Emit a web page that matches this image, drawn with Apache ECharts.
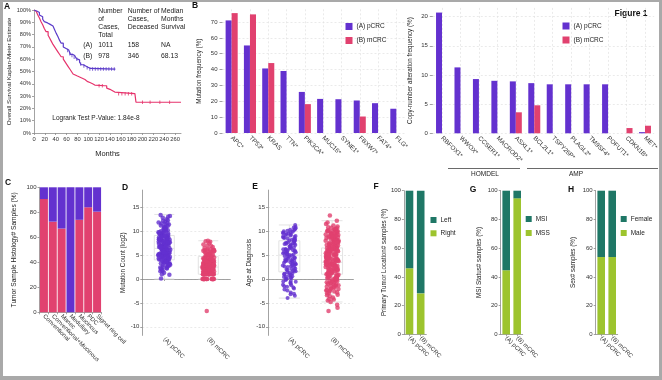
<!DOCTYPE html>
<html><head><meta charset="utf-8">
<script src="https://cdn.jsdelivr.net/npm/echarts@6/dist/echarts.min.js"></script>
<style>
html,body{margin:0;padding:0;background:#a9a9a9;}
#wrap{position:relative;width:662px;height:380px;background:#a9a9a9;overflow:hidden;}
#paper{position:absolute;left:3px;top:2px;width:656px;height:374px;background:#fff;}
#c{position:absolute;left:0;top:0;width:662px;height:380px;}
</style>
</head><body><div id="wrap"><div id="paper"></div><div id="c"></div></div>
<script>
// ---------- DATA ----------
// A: Kaplan-Meier
const kmMonthsA = [0,3,6,10,13,16,19,22,25,29,32,35,38,41,44,47,50,54,57,60,64,67,71,75,78,81,84,87,91,94,97,100,104,150];
const kmSurvA   = [100,99,98,96,94.5,92.5,90.5,89.5,88.5,87.5,87,86,84,81,78.5,75.5,73,70,68.5,67.5,66,64,63,61.5,60.5,59.5,57.5,55.5,54.5,54,53,52.5,52,52];
const kmMonthsB = [0,2,4,7,10,13,16,19,22,26,29,32,35,38,41,44,47,50,54,57,60,63,66,69,72,75,79,84,89,94,98,103,108,112,130,134,137,140,144,149,186,188,271];
const kmSurvB   = [100,99,98,96,93.5,90.5,88,85,82.5,79.5,77,74.5,72,70,68,66,64,62,60,58,56,54,52,50,48,46.5,45.5,44.5,43.5,42,41,40,39,38.4,38.4,36.5,35.5,34.6,33.3,32,32,25,25];
const kmCensorA = [[62,67],[66,64.5],[70,63],[74,61.5],[79,60],[86,56],[92,54.5],[98,53],[103,52],[108,52],[113,52],[118,52],[123,52],[128,52],[133,52],[138,52],[143,52],[148,52]];
const kmCensorB = [[120,38.4],[126,38.4],[156,32],[162,32],[168,32],[174,32],[180,32],[200,25],[214,25],[232,25],[250,25]];
const kmTicks = [0,20,40,60,80,100,120,140,160,180,200,220,240,260];

// B: mutation frequency
const mutGenes = ['APC*','TP53*','KRAS','TTN*','PIK3CA*','MUC16*','SYNE1*','FBXW7*','FAT4*','FLG*'];
const mutPcrc  = [71.0,55.2,40.7,39.1,25.9,21.5,21.3,20.5,18.8,15.3];
const mutMcrc  = [75.6,74.8,44.1,0,18.2,0,0,10.4,0,0];
const mutTicks = [0,10,20,30,40,50,60,70];

// B right: copy-number alteration
const cnaGenes = ['RBFOX1*','WWOX*','CCSER1*','MACROD2*','ASXL1*','BCL2L1*','TSPY26P*','PLAGL2*','TM9SF4*','POFUT1*','CDKN1B*','MET*'];
const cnaPcrc  = [20.7,11.3,9.3,9.0,8.9,8.6,8.4,8.4,8.4,8.4,0,0.2];
const cnaMcrc  = [0,0,0,0,3.6,4.8,0,0,0,0,0.9,1.3];
const cnaTicks = [0,5,10,15,20];

// C: histology
const histTypes = ['Conventional','Conventional+Mucinous','Manec','Medullary','Mucinous','PDC','Signet ring cell'];
const histMcrc  = [90.6,72.5,67,0,74,84,80.5];
const histPcrc  = [9.4,27.5,33,100,26,16,19.5];

// D / E: jittered points
const groups = ['(A) pCRC','(B) mCRC'];
const mutCountPcrc = [0.1,0.9,1.3,1.6,1.9,2.1,2.3,2.5,2.6,2.8,2.9,3.0,3.2,3.3,3.4,3.5,3.6,3.8,3.9,4.0,4.0,4.1,4.2,4.3,4.4,4.5,4.6,4.7,4.8,4.9,5.0,5.0,5.1,5.2,5.3,5.4,5.5,5.5,5.6,5.7,5.8,5.9,6.0,6.0,6.1,6.2,6.3,6.4,6.4,6.5,6.6,6.7,6.8,6.9,7.0,7.0,7.1,7.2,7.3,7.4,7.5,7.5,7.6,7.7,7.8,7.9,8.0,8.0,8.1,8.2,8.3,8.4,8.5,8.6,8.7,8.8,8.9,9.0,9.1,9.2,9.3,9.4,9.6,9.7,9.8,10.0,10.1,10.3,10.4,10.6,10.7,10.9,11.0,11.2,11.4,11.6,11.8,12.0,12.3,12.5,12.8,13.0,13.2,13.4,12.2,11.5,3.1,4.6,5.8,6.9,7.9,9.5,2.2,8.6,6.3,5.3,
  1.0,1.7,2.4,2.7,3.0,3.3,3.5,3.7,3.9,4.1,4.3,4.5,4.7,4.9,5.1,5.3,5.5,5.7,5.9,6.1,6.3,6.5,6.7,6.9,7.1,7.3,7.5,7.7,7.9,8.1,8.3,8.5,8.7,8.9,9.1,9.3,9.5,9.8,10.2,10.6,11.1,11.7,4.2,4.8,5.4,6.0,6.6,7.2,7.8,8.4,9.0,5.0,6.2,7.4,3.6,8.8,10.0,5.6,6.8,7.6];
const mutCountMcrc = [0,0,0,0,0,0,0,0,0,0,0,0,1,1,1,1,1,1,1,1,1,1.58,1.58,1.58,1.58,1.58,1.58,1.58,2,2,2,2,2,2,2,2.32,2.32,2.32,2.32,2.32,2.58,2.58,2.58,2.58,2.58,2.81,2.81,2.81,2.81,3,3,3,3,3,3.17,3.17,3.17,3.32,3.32,3.32,3.32,3.46,3.46,3.58,3.58,3.58,3.7,3.81,3.91,3.91,4,4,4.09,4.17,4.25,4.32,4.39,4.46,4.52,4.58,4.7,4.81,4.91,5,5.09,5.17,5.32,5.46,5.58,5.7,5.81,5.91,6,6.04,6.09,6.13,6.2,6.3,6.5,6.7,7.0,7.2,7.5,7.8,8.0,7.9,6.9,-6.7,
  0,0,0,0,0,0,1,1,1,1,1,1.58,1.58,1.58,1.58,2,2,2,2,2.32,2.32,2.32,2.58,2.58,2.58,2.81,2.81,3,3,3.17,3.32,3.46,3.58,3.7,3.81,4,4.17,4.32,4.58,4.81,5,5.25,5.5,5.75,6,1,2,3,4,5];
const agePcrc = [-4.0,-3.5,-3.1,-2.8,-2.4,-2.0,-1.8,-1.5,-1.2,-1.0,-0.8,-0.6,-0.4,-0.2,0.0,0.1,0.3,0.5,0.6,0.8,1.0,1.1,1.3,1.4,1.6,1.8,1.9,2.1,2.2,2.4,2.5,2.7,2.8,3.0,3.1,3.2,3.4,3.5,3.7,3.8,3.9,4.1,4.2,4.4,4.5,4.6,4.8,4.9,5.0,5.2,5.3,5.4,5.6,5.7,5.8,6.0,6.1,6.2,6.4,6.5,6.6,6.8,6.9,7.0,7.2,7.3,7.4,7.6,7.7,7.8,8.0,8.1,8.2,8.4,8.5,8.6,8.8,8.9,9.0,9.2,9.3,9.5,9.6,9.8,10.0,10.2,10.4,10.6,10.9,11.3,-3.2,-1.6,0.4,2.0,3.3,4.3,5.5,6.7,7.5,8.3,9.1,9.9,10.3,
  -0.5,0.9,1.7,2.6,3.6,4.7,5.1,5.9,6.3,7.1,7.9,8.7,9.4,10.1,10.8,1.2,2.9,4.0,6.0,8.0,9.7,3.8,5.6,7.4,-2.2,-1.3,0.2];
const ageMcrc = [-6.7,-6.0,-5.4,-4.8,-4.5,-4.2,-3.9,-3.6,-3.3,-3.0,-2.8,-2.6,-2.4,-2.2,-2.0,-1.8,-1.6,-1.4,-1.2,-1.0,-0.9,-0.7,-0.5,-0.4,-0.2,0.0,0.1,0.2,0.4,0.5,0.6,0.8,0.9,1.0,1.1,1.2,1.4,1.5,1.6,1.7,1.8,2.0,2.1,2.2,2.3,2.4,2.5,2.6,2.8,2.9,3.0,3.1,3.2,3.3,3.4,3.5,3.6,3.7,3.8,3.9,4.0,4.1,4.2,4.3,4.4,4.5,4.6,4.7,4.8,4.9,5.0,5.1,5.2,5.3,5.4,5.5,5.6,5.7,5.8,5.9,6.0,6.1,6.2,6.3,6.4,6.5,6.6,6.7,6.8,6.9,7.0,7.1,7.2,7.3,7.4,7.5,7.6,7.7,7.8,7.9,8.0,8.1,8.2,8.3,8.4,8.5,8.6,8.7,8.8,8.9,9.0,9.1,9.2,9.3,9.4,9.5,9.6,9.7,9.8,9.9,10.0,10.1,10.2,10.3,10.4,10.5,10.6,10.8,11.0,11.2,11.8,12.2,13.3,3.0,4.2,5.1,6.3,7.0,1.8,2.7,8.1,0.7,-1.1,
  -3.4,-2.9,-2.5,-2.1,-1.7,-1.3,-0.8,-0.3,0.3,0.7,1.1,1.5,1.9,2.3,2.7,3.1,3.5,3.9,4.3,4.7,5.1,5.5,5.9,6.3,6.7,7.1,7.5,7.9,8.3,8.7,9.1,9.5,9.9,10.3,10.7,-1.5,-0.6,0.3,1.2,2.1,3.0,3.9,4.8,5.7,6.6,7.5,8.4,9.3,10.2,0.0,1.0,2.0,3.0,4.0,5.0,6.0,7.0,8.0,9.0,10.0,-2.3,-0.1,2.6,4.4,6.2,8.8,-4.3,11.5,1.3,3.7,5.3,7.7];
const mutCountBox = [[0,4,6.4,9.1,13.5],[0,1,2.5,4.7,8]];
const ageBox = [[-4,1.5,5,8,11.3],[-4.8,1,3.5,6.5,12.2]];
const scatterTicks = [-10,-5,0,5,10,15];

// F, G, H: stacked percentages
const locRight = [46, 28.5];   const locLeft = [54, 71.5];
const msiMss   = [44.6, 94.7]; const msiMsi  = [55.4, 5.3];
const sexMale  = [53.8, 53.8]; const sexFemale = [46.2, 46.2];

// ---------- STYLE ----------
const FONT = 'Liberation Sans, Arial, sans-serif';
const PURPLE = '#6331cf', PINK = '#e1416f', TEAL = '#1f7766', LIME = '#9dc42e';
const KM_PURPLE = '#5b3bc9', KM_PINK = '#e6336c';
const AX = '#8c8c8c';

function merge(a,b){const r=Object.assign({},a);for(const k in b){const v=b[k];if(v&&typeof v==='object'&&!Array.isArray(v)&&a[k]&&typeof a[k]==='object'&&!Array.isArray(a[k]))r[k]=merge(a[k],v);else r[k]=v;}return r;}

const baseAxis = {
  axisLine:{show:true,lineStyle:{color:AX,width:0.8}},
  axisTick:{show:true,length:2,lineStyle:{color:AX,width:0.8}},
  axisLabel:{fontSize:6,color:'#333',margin:3,fontFamily:FONT},
  splitLine:{show:false},
  nameLocation:'middle',
  nameTextStyle:{fontSize:6.3,color:'#222',fontFamily:FONT}
};
const dashGrid = {show:true,lineStyle:{color:'#e2e2e2',type:[2,2],width:0.7}};
function yv(gi,o){return merge(merge(baseAxis,{gridIndex:gi,type:'value',nameRotate:90}),o);}
function xc(gi,data,o){return merge(merge(baseAxis,{gridIndex:gi,type:'category',data:data,axisLabel:{rotate:-45,margin:3,fontSize:6.2,interval:0}}),o);}

const grids = [
  {left:34,top:10,width:147,height:123},        // A
  {left:222.5,top:9.3,width:183,height:123.7},  // B left
  {left:432.8,top:7.9,width:221.4,height:125.4},// B right
  {left:39.5,top:187.3,width:62,height:125},    // C
  {left:142.3,top:190.1,width:88,height:145.3}, // D
  {left:268,top:190.1,width:85.4,height:145.3}, // E
  {left:403.9,top:190.7,width:22.4,height:143.6},// F
  {left:500.7,top:190.7,width:22,height:143.6}, // G
  {left:595.7,top:190.7,width:22,height:143.6}  // H
].map(g=>Object.assign({outerBoundsMode:'none',containLabel:false},g));

const xAxis = [
  merge(baseAxis,{gridIndex:0,type:'value',min:0,max:271,name:'Months',nameGap:17,
    nameTextStyle:{fontSize:7.5},axisLabel:{customValues:kmTicks,fontSize:5.8},axisTick:{customValues:kmTicks}}),
  xc(1,mutGenes,{axisLine:{show:false},axisTick:{show:false},splitLine:merge(dashGrid,{alignWithLabel:true}),axisLabel:{fontSize:6.3,margin:4}}),
  xc(2,cnaGenes,{axisLine:{show:false},axisTick:{show:false},splitLine:merge(dashGrid,{alignWithLabel:true}),axisLabel:{fontSize:6.3,margin:4}}),
  xc(3,histTypes,{axisLabel:{fontSize:6}}),
  xc(4,groups,{jitter:12,jitterOverlap:true,axisTick:{alignWithLabel:true}}),
  xc(5,groups,{jitter:13,jitterOverlap:true,axisTick:{alignWithLabel:true}}),
  xc(6,groups,{axisTick:{alignWithLabel:true},axisLabel:{fontSize:6}}),
  xc(7,groups,{axisTick:{alignWithLabel:true},axisLabel:{fontSize:6}}),
  xc(8,groups,{axisTick:{alignWithLabel:true},axisLabel:{fontSize:6}})
];
const yAxis = [
  yv(0,{min:0,max:100,interval:10,name:'Overall Survival Kaplan-Meier Estimate',nameGap:22,nameTextStyle:{fontSize:6.2},axisLabel:{formatter:'{value}%',fontSize:5.6}}),
  yv(1,{min:0,max:78,name:'Mutation frequency (%)',nameGap:20,axisLine:{show:false},axisLabel:{customValues:mutTicks,margin:5},axisTick:{customValues:mutTicks,length:3},splitLine:dashGrid}),
  yv(2,{min:0,max:21.5,name:'Copy-number alteration frequency (%)',nameGap:20,axisLine:{show:false},axisLabel:{customValues:cnaTicks,margin:5},axisTick:{customValues:cnaTicks,length:3},splitLine:dashGrid}),
  yv(3,{min:0,max:100,interval:20,name:'Tumor Sample Histology# Samples (%)',nameGap:22,nameTextStyle:{fontSize:6.6}}),
  yv(4,{min:-11.8,max:18.6,name:'Mutation Count (log2)',nameGap:14,axisLabel:{customValues:scatterTicks},axisTick:{customValues:scatterTicks},splitLine:dashGrid}),
  yv(5,{min:-11.8,max:18.6,name:'Age at Diagnosis',nameGap:13,axisLabel:{customValues:scatterTicks},axisTick:{customValues:scatterTicks},splitLine:dashGrid}),
  yv(6,{min:0,max:100,interval:20,name:'Primary Tumor Location# samples (%)',nameGap:17}),
  yv(7,{min:0,max:100,interval:20,name:'MSI Status# samples (%)',nameGap:18}),
  yv(8,{min:0,max:100,interval:20,name:'Sex# samples (%)',nameGap:19})
];

function zip(a,b){return a.map((v,i)=>[v,b[i]]);}
function pts(cat,arr){return arr.map(v=>[cat,v]);}
const boxStyle = {color:'rgba(0,0,0,0)',borderColor:'#e0e0e0',borderWidth:0.9};

const series = [
  // A
  {type:'line',name:'KM pCRC',xAxisIndex:0,yAxisIndex:0,step:'end',showSymbol:false,data:zip(kmMonthsA,kmSurvA),lineStyle:{color:KM_PURPLE,width:1.2},itemStyle:{color:KM_PURPLE},z:3},
  {type:'line',name:'KM mCRC',xAxisIndex:0,yAxisIndex:0,step:'end',showSymbol:false,data:zip(kmMonthsB,kmSurvB),lineStyle:{color:KM_PINK,width:1.2},itemStyle:{color:KM_PINK},z:2},
  {type:'scatter',name:'KM cens A',xAxisIndex:0,yAxisIndex:0,symbol:'rect',symbolSize:[1,3.5],data:kmCensorA,itemStyle:{color:KM_PURPLE}},
  {type:'scatter',name:'KM cens B',xAxisIndex:0,yAxisIndex:0,symbol:'rect',symbolSize:[1,3.5],data:kmCensorB,itemStyle:{color:KM_PINK}},
  // B left
  {type:'bar',name:'(A) pCRC',xAxisIndex:1,yAxisIndex:1,data:mutPcrc,itemStyle:{color:PURPLE},barGap:'0%',barCategoryGap:'34%'},
  {type:'bar',name:'(B) mCRC',xAxisIndex:1,yAxisIndex:1,data:mutMcrc,itemStyle:{color:PINK},barGap:'0%',barCategoryGap:'34%'},
  // B right
  {type:'bar',name:'(A) pCRC',xAxisIndex:2,yAxisIndex:2,data:cnaPcrc,itemStyle:{color:PURPLE},barGap:'0%',barCategoryGap:'35%'},
  {type:'bar',name:'(B) mCRC',xAxisIndex:2,yAxisIndex:2,data:cnaMcrc,itemStyle:{color:PINK},barGap:'0%',barCategoryGap:'35%'},
  // C
  {type:'bar',name:'hist mCRC',xAxisIndex:3,yAxisIndex:3,stack:'h',data:histMcrc,barWidth:8,itemStyle:{color:PINK}},
  {type:'bar',name:'hist pCRC',xAxisIndex:3,yAxisIndex:3,stack:'h',data:histPcrc,barWidth:8,itemStyle:{color:PURPLE}},
  // D
  {type:'boxplot',name:'box D',xAxisIndex:4,yAxisIndex:4,data:mutCountBox,boxWidth:[20,20],itemStyle:boxStyle,z:1},
  {type:'scatter',name:'D pCRC',xAxisIndex:4,yAxisIndex:4,data:pts(0,mutCountPcrc),symbolSize:4.5,itemStyle:{color:PURPLE},z:3},
  {type:'scatter',name:'D mCRC',xAxisIndex:4,yAxisIndex:4,data:pts(1,mutCountMcrc),symbolSize:4.5,itemStyle:{color:PINK},z:3},
  // E
  {type:'boxplot',name:'box E',xAxisIndex:5,yAxisIndex:5,data:ageBox,boxWidth:[21,21],itemStyle:boxStyle,z:1},
  {type:'scatter',name:'E pCRC',xAxisIndex:5,yAxisIndex:5,data:pts(0,agePcrc),symbolSize:4,itemStyle:{color:PURPLE},z:3},
  {type:'scatter',name:'E mCRC',xAxisIndex:5,yAxisIndex:5,data:pts(1,ageMcrc),symbolSize:4.6,itemStyle:{color:PINK},z:3},
  // F
  {type:'bar',name:'Right',xAxisIndex:6,yAxisIndex:6,stack:'f',data:locRight,barWidth:7.6,itemStyle:{color:LIME}},
  {type:'bar',name:'Left',xAxisIndex:6,yAxisIndex:6,stack:'f',data:locLeft,barWidth:7.6,itemStyle:{color:TEAL}},
  // G
  {type:'bar',name:'MSS',xAxisIndex:7,yAxisIndex:7,stack:'g',data:msiMss,barWidth:7.6,itemStyle:{color:LIME}},
  {type:'bar',name:'MSI',xAxisIndex:7,yAxisIndex:7,stack:'g',data:msiMsi,barWidth:7.6,itemStyle:{color:TEAL}},
  // H
  {type:'bar',name:'Male',xAxisIndex:8,yAxisIndex:8,stack:'hh',data:sexMale,barWidth:7.6,itemStyle:{color:LIME}},
  {type:'bar',name:'Female',xAxisIndex:8,yAxisIndex:8,stack:'hh',data:sexFemale,barWidth:7.6,itemStyle:{color:TEAL}}
];
series.forEach(s=>{s.animation=false;s.silent=true;});

function leg(names,left,top,gap,size){return {data:names,left:left,top:top,orient:'vertical',itemWidth:size,itemHeight:size,itemGap:gap,icon:'rect',selectedMode:false,padding:0,textStyle:{fontSize:6.5,color:'#222',fontFamily:FONT,padding:[0,0,0,-1]}};}
const legend = [
  leg(['(A) pCRC','(B) mCRC'],345.5,23,7,7),
  leg(['(A) pCRC','(B) mCRC'],562.5,22.5,7,7),
  leg(['Left','Right'],430.5,216.5,6.3,6),
  leg(['MSI','MSS'],525.7,215.5,7,6),
  leg(['Female','Male'],620.7,215.5,7,6)
];

function T(x,y,text,o){return {type:'text',x:x,y:y,silent:true,style:Object.assign({text:text,fill:'#222',fontSize:6.8,fontFamily:FONT,verticalAlign:'middle',textVerticalAlign:'middle'},o||{})};}
function L(x,y,t){return T(x,y,t,{fontSize:8.5,fontWeight:'bold',fill:'#111',textAlign:'center',align:'center'});}
const graphic = [
  L(7,7,'A'),L(195,6,'B'),L(8,183,'C'),L(125,188,'D'),L(255,187,'E'),L(376,187,'F'),L(473,190,'G'),L(571,190,'H'),
  T(631,14,'Figure 1',{fontSize:8.5,fontWeight:'bold',fill:'#111',textAlign:'center',align:'center'}),
  T(98.3,11,'Number'),T(98.3,19,'of'),T(98.3,27,'Cases,'),T(98.3,35,'Total'),
  T(127.7,11,'Number of'),T(127.7,19,'Cases,'),T(127.7,27,'Deceased'),
  T(161,11,'Median'),T(161,19,'Months'),T(161,27,'Survival'),
  T(83.3,45,'(A)'),T(98.3,45,'1011'),T(127.7,45,'158'),T(161,45,'NA'),
  T(83.3,55.7,'(B)'),T(98.3,55.7,'978'),T(127.7,55.7,'346'),T(161,55.7,'68.13'),
  T(52.3,118.3,'Logrank Test P-Value: 1.84e-8',{fontSize:6.5}),
  {type:'line',silent:true,shape:{x1:448,y1:168.5,x2:520,y2:168.5},style:{stroke:'#444',lineWidth:0.8}},
  {type:'line',silent:true,shape:{x1:527,y1:168.5,x2:658,y2:168.5},style:{stroke:'#444',lineWidth:0.8}},
  T(485,174.5,'HOMDEL',{fontSize:6.5,textAlign:'center',align:'center'}),
  T(576,174.5,'AMP',{fontSize:6.5,textAlign:'center',align:'center'})
];

const chart = echarts.init(document.getElementById('c'),null,{renderer:'canvas'});
chart.setOption({backgroundColor:'transparent',animation:false,textStyle:{fontFamily:FONT},grid:grids,xAxis:xAxis,yAxis:yAxis,series:series,legend:legend,graphic:graphic});
</script>
</body></html>
